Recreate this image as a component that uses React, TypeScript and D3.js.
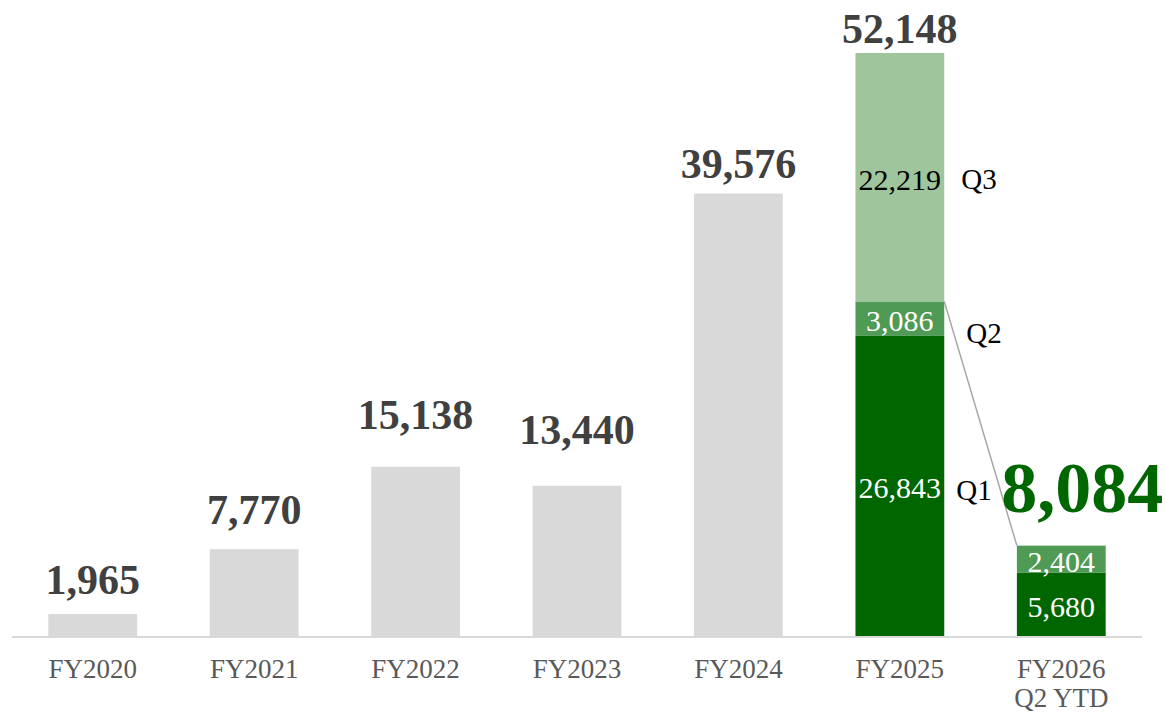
import React from 'react';
import * as d3 from 'd3';

// chart data
const years = ['FY2020', 'FY2021', 'FY2022', 'FY2023', 'FY2024', 'FY2025', 'FY2026'];
const yearSub = ['', '', '', '', '', '', 'Q2 YTD'];
const totals = [1965, 7770, 15138, 13440, 39576, 52148, 8084];
const q1 = [0, 0, 0, 0, 0, 26843, 5680];
const q2 = [0, 0, 0, 0, 0, 3086, 2404];
const q3 = [0, 0, 0, 0, 0, 22219, 0];
const quarterNames = ['Q1', 'Q2', 'Q3'];

// layout tweaks (label lift above bar top, px)
const labelLift = [20, 25, 38, 42, 16, 10, 0];
const qLabelShift = [4, 14, 2];
const qLabelDx = [0, 10, 5];

const W = 1165;
const H = 713;
const base = 636;

const GRAY = '#d9d9d9';
const DARK = '#006600';
const MID = '#4f9a55';
const LIGHT = '#9fc59d';
const serif = '"Liberation Serif", "Times New Roman", serif';

const fmt = d3.format(',');

export default function App() {
  const x = d3.scaleBand<string>().domain(years).range([12, 1142]).paddingInner(0.45).paddingOuter(0.225);
  const y = d3.scaleLinear().domain([0, 52148]).range([base, 53]);
  const bw = x.bandwidth();

  const stacked = years.map((_, i) => {
    const segs = [q1[i], q2[i], q3[i]];
    let acc = 0;
    return segs.map((v, k) => {
      const s = { y0: acc, y1: acc + v, v, k };
      acc += v;
      return s;
    });
  });
  const segColor = [DARK, MID, LIGHT];

  const i25 = 5;
  const i26 = 6;

  return (
    <svg width={W} height={H} style={{ position: 'absolute', left: 0, top: 0, background: '#fff' }} fontFamily={serif}>
      {years.map((yr, i) => {
        const bx = x(yr)!;
        const cx = bx + bw / 2;
        const stackedBar = q1[i] > 0;
        return (
          <g key={yr}>
            {!stackedBar && (
              <rect x={bx} y={y(totals[i])} width={bw} height={base - y(totals[i])} fill={GRAY} />
            )}
            {stackedBar &&
              stacked[i].filter(s => s.v > 0).map(s => (
                <g key={s.k}>
                  <rect x={bx} y={y(s.y1)} width={bw} height={y(s.y0) - y(s.y1)} fill={segColor[s.k]} />
                  <text
                    x={cx}
                    y={(y(s.y0) + y(s.y1)) / 2 + 2}
                    dominantBaseline="central"
                    textAnchor="middle"
                    fontSize={30}
                    fill={s.k === 2 ? '#000' : '#fff'}
                  >
                    {fmt(s.v)}
                  </text>
                </g>
              ))}
            {i !== i26 && (
              <text x={cx} y={y(totals[i]) - labelLift[i]} textAnchor="middle" fontSize={42} fontWeight="bold" fill="#404040">
                {fmt(totals[i])}
              </text>
            )}
            <text x={cx} y={678} textAnchor="middle" fontSize={27} fill="#595959">
              {yr}
            </text>
            {yearSub[i] && (
              <text x={cx} y={707} textAnchor="middle" fontSize={27} fill="#595959">
                {yearSub[i]}
              </text>
            )}
          </g>
        );
      })}

      {stacked[i25].map(s => (
        <text
          key={s.k}
          x={x(years[i25])! + bw + 12 + qLabelDx[s.k]}
          y={(y(s.y0) + y(s.y1)) / 2 + qLabelShift[s.k]}
          dominantBaseline="central"
          fontSize={29}
          fill="#000"
        >
          {quarterNames[s.k]}
        </text>
      ))}

      <line
        x1={x(years[i25])! + bw}
        y1={y(q1[i25] + q2[i25])}
        x2={x(years[i26])!}
        y2={y(totals[i26])}
        stroke="#a6a6a6"
        strokeWidth={1.5}
      />

      <text x={x(years[i26])! + bw / 2 + 21} y={512} textAnchor="middle" fontSize={72} fontWeight="bold" fill={DARK}>
        {fmt(totals[i26])}
      </text>

      <line x1={12} x2={1142} y1={base + 1} y2={base + 1} stroke={GRAY} strokeWidth={2} />
    </svg>
  );
}
